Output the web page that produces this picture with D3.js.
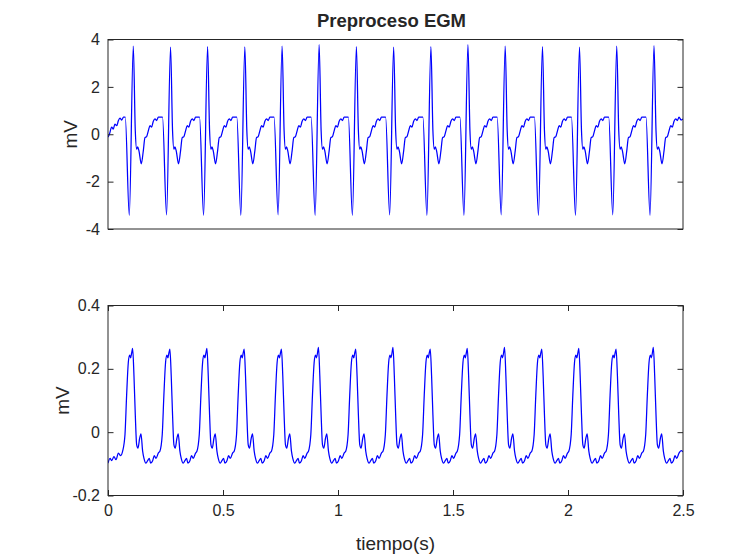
<!DOCTYPE html>
<html>
  <head>
    <meta charset="utf-8">
    <script src="https://d3js.org/d3.v7.min.js"></script>
    <style>
      body { margin: 0; background: #fff; }
      text { font-family: "Liberation Sans", Arial, Helvetica, sans-serif; fill: #262626; }
      .tick line { stroke: #262626; }
    </style>
  </head>
  <body>
    <div id="chart"></div>
    <script>
      // spike (beat) times in seconds
      var beatTimes = [0.110, 0.272, 0.433, 0.595, 0.757, 0.918, 1.080, 1.242, 1.404, 1.565, 1.727, 1.889, 2.050, 2.212, 2.374];

      // top panel: spike heights and troughs per beat (mV)
      var topPeaks   = [3.72, 3.68, 3.70, 3.69, 3.72, 3.78, 3.70, 3.68, 3.70, 3.78, 3.72, 3.70, 3.68, 3.72, 3.74];
      var topTroughs = [-3.42, -3.40, -3.42, -3.42, -3.40, -3.42, -3.42, -3.40, -3.42, -3.42, -3.40, -3.42, -3.42, -3.40, -3.42];
      // one beat of the top trace: offset from spike (ms), value (mV); strings = per-beat value
      var topBeatMs  = [-35, -17.4, 0, 8.7, 14.5, 18.8, 24.6, 34.8, 43.5, 50.7, 58, 65.2, 72.5, 79.7, 87, 94.2, 101.4, 108.7];
      var topBeatVal = [0.72, "trough", "peak", 0.14, -0.63, -0.53, -0.70, -1.25, -0.70, -0.14, -0.10, 0.14, 0.36, 0.30, 0.55, 0.65, 0.58, 0.72];
      // start and end of the top trace (s, mV)
      var topLeadT = [0, 0.006, 0.016, 0.023, 0.030, 0.038, 0.045, 0.052, 0.060, 0.067];
      var topLeadV = [-0.12, 0.0, 0.30, 0.22, 0.43, 0.36, 0.57, 0.68, 0.60, 0.72];
      var topTailT = [2.492, 2.5];
      var topTailV = [0.60, 0.64];

      // bottom panel: peak per beat (mV)
      var botPeaks   = [0.265, 0.262, 0.265, 0.262, 0.262, 0.268, 0.262, 0.268, 0.262, 0.265, 0.268, 0.262, 0.265, 0.262, 0.268];
      var botBeatMs  = [-46.4, -36.2, -29, -21.7, -15.9, -11.6, -7.2, -2.9, 2.9, 8.7, 14.5, 20.3, 27.5, 33.3, 40.6, 46.4, 55.1, 62.3, 69.6, 75.4, 84.1, 91.3, 98.6, 108.7];
      var botBeatVal = [-0.060, -0.008, 0.117, 0.220, 0.243, 0.235, 0.250, "peak", 0.178, 0.054, -0.039, -0.050, -0.020, -0.005, -0.060, -0.083, -0.098, -0.090, -0.083, -0.098, -0.090, -0.074, -0.083, -0.066];
      var botLeadT = [0, 0.009, 0.016, 0.026, 0.035, 0.045, 0.055];
      var botLeadV = [-0.098, -0.083, -0.090, -0.077, -0.087, -0.066, -0.074];
      var botTailT = [2.492, 2.5];
      var botTailV = [-0.058, -0.062];

      // axes ticks
      var xTicks = [0, 0.5, 1, 1.5, 2, 2.5];
      var topYTicks = [-4, -2, 0, 2, 4];
      var botYTicks = [-0.2, 0, 0.2, 0.4];

      var width = 741, height = 555;
      var left = 108, right = 683;

      var svg = d3.select("#chart").append("svg")
          .attr("width", width)
          .attr("height", height)
          .style("display", "block");

      function buildSeries(leadT, leadV, ms, vals, extras, tailT, tailV) {
        var pts = leadT.map(function(t, i) { return [t, leadV[i]]; });
        beatTimes.forEach(function(t0, b) {
          ms.forEach(function(m, j) {
            var v = vals[j];
            if (typeof v === "string") v = extras[v][b];
            pts.push([t0 + m / 1000, v]);
          });
        });
        tailT.forEach(function(t, i) { pts.push([t, tailV[i]]); });
        return pts.filter(function(p) { return p[0] >= 0 && p[0] <= 2.5; })
                  .sort(function(a, b) { return a[0] - b[0]; });
      }

      var topData = buildSeries(topLeadT, topLeadV, topBeatMs, topBeatVal,
                                {peak: topPeaks, trough: topTroughs}, topTailT, topTailV);
      var botData = buildSeries(botLeadT, botLeadV, botBeatMs, botBeatVal,
                                {peak: botPeaks}, botTailT, botTailV);

      var x = d3.scaleLinear().domain([0, 2.5]).range([left, right]);

      function panel(id, y0, y1, domain, yTicks, data, showX) {
        var y = d3.scaleLinear().domain(domain).range([y1, y0]);
        var g = svg.append("g");

        g.append("clipPath").attr("id", id)
          .append("rect")
            .attr("x", left).attr("y", y0)
            .attr("width", right - left).attr("height", y1 - y0);

        g.append("path")
          .datum(data)
          .attr("clip-path", "url(#" + id + ")")
          .attr("fill", "none")
          .attr("stroke", "#0000ff")
          .attr("stroke-width", 1.25)
          .attr("d", d3.line()
              .x(function(d) { return x(d[0]); })
              .y(function(d) { return y(d[1]); })
              .curve(d3.curveMonotoneX));

        var fmt = function(d) { return String(+d.toFixed(2)); };

        g.append("g")
          .attr("transform", "translate(" + left + ",0)")
          .call(d3.axisLeft(y).tickValues(yTicks).tickSize(-5.5).tickPadding(8).tickFormat(fmt))
          .call(function(a) { a.select(".domain").remove(); })
          .selectAll("text").attr("font-size", "16px").attr("fill", "#262626");

        g.append("g")
          .attr("transform", "translate(" + right + ",0)")
          .call(d3.axisRight(y).tickValues(yTicks).tickSize(-5.5).tickFormat(""))
          .call(function(a) { a.select(".domain").remove(); });

        if (showX) {
          g.append("g")
            .attr("transform", "translate(0," + y1 + ")")
            .call(d3.axisBottom(x).tickValues(xTicks).tickSize(-5.5).tickPadding(9).tickFormat(fmt))
            .call(function(a) { a.select(".domain").remove(); })
            .selectAll("text").attr("font-size", "16px").attr("fill", "#262626");
          g.append("g")
            .attr("transform", "translate(0," + y0 + ")")
            .call(d3.axisTop(x).tickValues(xTicks).tickSize(-5.5).tickFormat(""))
            .call(function(a) { a.select(".domain").remove(); });
        }

        g.append("rect")
          .attr("x", left).attr("y", y0)
          .attr("width", right - left).attr("height", y1 - y0)
          .attr("fill", "none")
          .attr("stroke", "#262626")
          .attr("stroke-width", 1);

        g.selectAll(".tick text").attr("font-family", "'Liberation Sans', Arial, sans-serif");
        return y;
      }

      panel("clipTop", 39.5, 229, [-4, 4], topYTicks, topData, false);
      panel("clipBot", 305.5, 495.5, [-0.2, 0.4], botYTicks, botData, true);

      svg.append("text")
        .attr("x", (left + right) / 2 - 4)
        .attr("y", 27)
        .attr("text-anchor", "middle")
        .attr("font-size", "18.5px")
        .attr("font-weight", "bold")
        .text("Preproceso EGM");

      svg.append("text")
        .attr("transform", "translate(77," + (39.5 + 229) / 2 + ") rotate(-90)")
        .attr("text-anchor", "middle")
        .attr("font-size", "19px")
        .text("mV");

      svg.append("text")
        .attr("transform", "translate(69," + (305.5 + 495.5) / 2 + ") rotate(-90)")
        .attr("text-anchor", "middle")
        .attr("font-size", "19px")
        .text("mV");

      svg.append("text")
        .attr("x", (left + right) / 2)
        .attr("y", 550)
        .attr("text-anchor", "middle")
        .attr("font-size", "19px")
        .text("tiempo(s)");
    </script>
  </body>
</html>
